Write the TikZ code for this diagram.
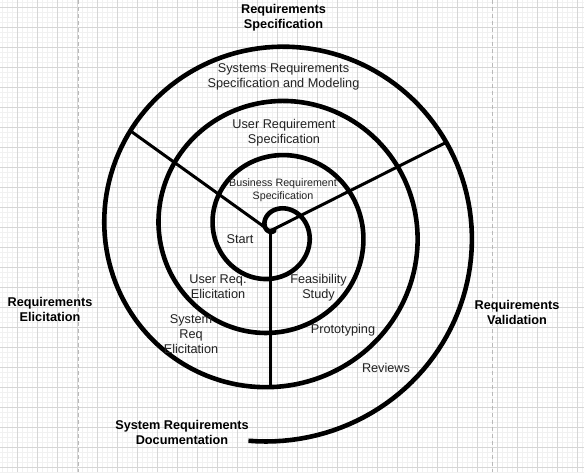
\documentclass[tikz,border=0pt]{standalone}
\usepackage{fontspec}
\setmainfont{Liberation Sans}
\definecolor{ink}{RGB}{34,34,34}
\definecolor{gridmajor}{RGB}{214,214,214}
\definecolor{gridminor}{RGB}{241,241,241}
\definecolor{guide}{RGB}{185,185,185}
\usetikzlibrary{calc}
\begin{document}
\begin{tikzpicture}[x=1pt, y=-1pt,
    lbl/.style={font=\fontsize{12.7}{15}\selectfont, text=ink, align=center, inner sep=0pt},
    smalllbl/.style={lbl, font=\fontsize{10.7}{12.5}\selectfont},
    head/.style={lbl, font=\fontsize{12.7}{15}\selectfont\bfseries, text=black},
    spiralline/.style={line width=4.6pt, black, line join=round},
    spoke/.style={line width=3pt, black}]
        \fill[white] (0,0) rectangle (584,472);
        \useasboundingbox (0,0) rectangle (584,472);
        % grid
        \foreach \gx in {2,7,...,582} \draw[gridminor, line width=0.6pt] (\gx,0) -- (\gx,472);
        \foreach \gy in {2,7,...,472} \draw[gridminor, line width=0.6pt] (0,\gy) -- (584,\gy);
        \foreach \gx in {17,37,...,577} \draw[gridmajor, line width=0.8pt] (\gx,0) -- (\gx,472);
        \foreach \gy in {7,27,...,467} \draw[gridmajor, line width=0.8pt] (0,\gy) -- (584,\gy);
        \draw[guide, line width=0.9pt, dash pattern=on 4pt off 3pt] (78,0) -- (78,472);
        \draw[guide, line width=0.9pt, dash pattern=on 4pt off 3pt] (492,0) -- (492,472);
        % spiral and spokes
        \coordinate (hub) at (270,231);
        \coordinate (ulend) at (132,132);
        \coordinate (urend) at (445,143);
        \coordinate (dnend) at (270,385);
        \draw[spiralline] (hub) -- plot[domain=-0.81:23.69, samples=600, variable=\t]
          ({274.5+(7+8.65*\t)*cos(180+deg(\t))}, {230.5+(7+8.65*\t)*sin(180+deg(\t))});
        \draw[spoke] (hub) -- (ulend);
        \draw[spoke] (hub) -- (urend);
        \draw[spoke] (hub) -- (dnend);
        % labels
        \node[head] (reqspec) at (283.5,17.5) {Requirements\\Specification};
        \node[lbl] (sysmodel) at (283.5,77) {Systems Requirements\\Specification and Modeling};
        \node[lbl] (userspec) at (284,132.5) {User Requirement\\Specification};
        \node[smalllbl] (busspec) at (283,190) {Business Requirement\\Specification};
        \node[lbl] (start) at (240,239) {Start};
        \node[lbl] (userelic) at (218,287) {User Req.\\Elicitation};
        \node[lbl] (syselic) at (191,334.5) {System\\Req\\Elicitation};
        \node[lbl] (feas) at (318.5,287.5) {Feasibility\\Study};
        \node[lbl] (proto) at (343,330) {Prototyping};
        \node[lbl] (reviews) at (386,368) {Reviews};
        \node[head] (reqvalid) at (517,312.5) {Requirements\\Validation};
        \node[head] (reqelic) at (50,309) {Requirements\\Elicitation};
        \node[head] (sysdoc) at (182,432.5) {System Requirements\\Documentation};
      \end{tikzpicture}
\end{document}
